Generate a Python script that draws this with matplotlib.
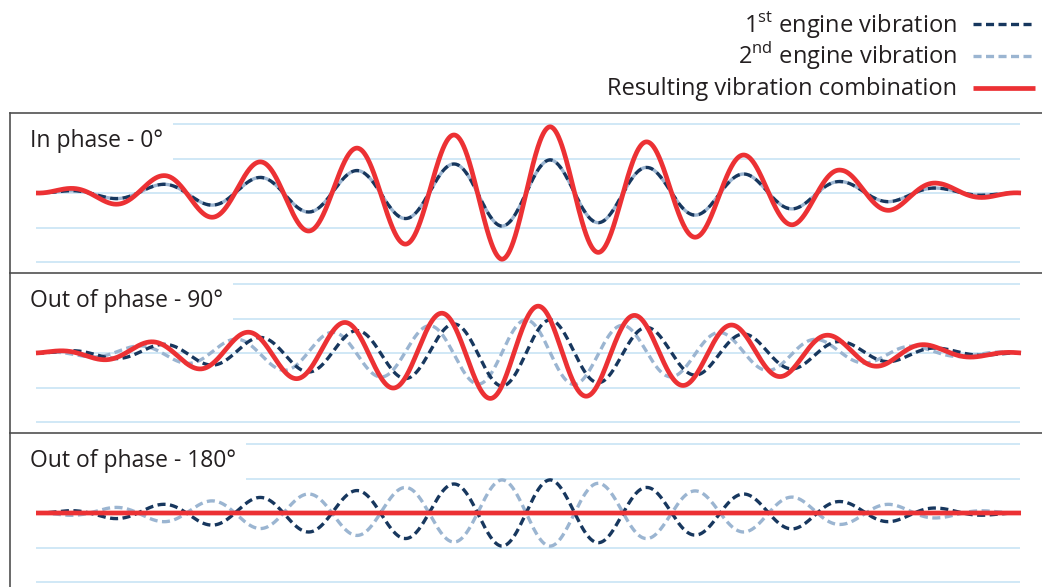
import matplotlib
matplotlib.use('Agg')
import matplotlib.pyplot as plt
from matplotlib.lines import Line2D
import numpy as np

plt.rcParams['font.family'] = ['Open Sans', 'DejaVu Sans']
plt.rcParams['mathtext.fontset'] = 'custom'
plt.rcParams['mathtext.rm'] = 'Open Sans'
plt.rcParams['lines.scale_dashes'] = False

# amplitude of one engine vibration at each successive peak / trough (grid units)
peak_amp = [0.06, 0.16, 0.25, 0.35, 0.45, 0.55, 0.65, 0.74, 0.84, 0.96,
            0.96, 0.86, 0.74, 0.64, 0.55, 0.46, 0.33, 0.25, 0.14, 0.06]
first_peak = 0.3      # time of first extremum, in cycles
t_end = 10.15         # length of the trace, in cycles
phase_deg = [0, 90, 180]
panel_titles = ['In phase - 0°', 'Out of phase - 90°', 'Out of phase - 180°']
grid_levels = [-2, -1, 0, 1, 2]
legend_labels = ['1$^{\\rm st}$ engine vibration',
                 '2$^{\\rm nd}$ engine vibration',
                 'Resulting vibration combination']

c_dark = '#17375e'
c_light = '#9bb5d1'
c_red = '#ec3134'
c_grid = '#c4e2f4'
c_text = '#231f20'
c_frame = '#505050'

# envelope of the vibration (zero at both ends of the trace)
peak_t = first_peak + 0.5 * np.arange(len(peak_amp))
env_t = np.concatenate([[0], peak_t, [t_end]])
env_a = np.concatenate([[0], peak_amp, [0]])
t = np.linspace(0, t_end, 3000)
env = np.interp(t, env_t, env_a)
theta = 2 * np.pi * (t - first_peak)

W, H = 1042, 587
fig = plt.figure(figsize=(W / 100, H / 100), dpi=100)

px_left, px_right = 10, 1042
data_left, data_right = 36, 1021
scale = t_end / (data_right - data_left)
xlim = (-(data_left - px_left) * scale, t_end + (px_right - data_right) * scale)
grid_end = (1020 - data_left) * scale
panel_top = [113, 273, 433]
panel_h = 160
half = panel_h / 2 / 34.5

styles = []
for i, (top, ph, title) in enumerate(zip(panel_top, phase_deg, panel_titles)):
    ax = fig.add_axes([px_left / W, 1 - (top + panel_h) / H,
                       (px_right - px_left) / W, panel_h / H])
    ax.set_xlim(*xlim)
    ax.set_ylim(-half, half)
    ax.set_xticks([])
    ax.set_yticks([])
    ax.patch.set_alpha(0)
    for s in ['right', 'bottom']:
        ax.spines[s].set_visible(False)
    for s in ['top', 'left']:
        ax.spines[s].set_color(c_frame)
        ax.spines[s].set_linewidth(1.2)

    ax.hlines(grid_levels, 0, grid_end, colors=c_grid, lw=1.1, zorder=1)

    first = env * np.cos(theta)
    second = env * np.cos(theta + np.deg2rad(ph))
    combined = first + second

    ax.plot(t, second, color=c_light, lw=2.4, ls=(5.8, (5.8, 3.2)), zorder=3)
    ax.plot(t, first, color=c_dark, lw=2.4, ls=(0, (5.8, 3.2)), zorder=4)
    ax.plot(t, combined, color=c_red, lw=3.4, zorder=5, solid_capstyle='butt')

    ax.text((30 - px_left) / (px_right - px_left), 1 - 28 / panel_h, title,
            transform=ax.transAxes, fontsize=16.5, color=c_text,
            ha='left', va='center', zorder=2,
            bbox=dict(fc='white', ec='none', boxstyle='square,pad=0.45'))

# legend, laid out as in the original: text right-aligned, sample line after it
leg_baseline = [32, 64, 95]
leg_line_y = [24, 56, 88]
leg_styles = [dict(color=c_dark, lw=2.4, ls=(0, (5.8, 3.2))),
              dict(color=c_light, lw=2.4, ls=(0, (5.8, 3.2))),
              dict(color=c_red, lw=3.4, solid_capstyle='butt')]
for label, yb, yl, st in zip(legend_labels, leg_baseline, leg_line_y, leg_styles):
    fig.text(957 / W, 1 - yb / H, label, fontsize=17, color=c_text,
             ha='right', va='baseline')
    fig.add_artist(Line2D([973 / W, 1035 / W], [1 - yl / H, 1 - yl / H],
                          transform=fig.transFigure, **st))

fig.savefig('out.png', dpi=100)
